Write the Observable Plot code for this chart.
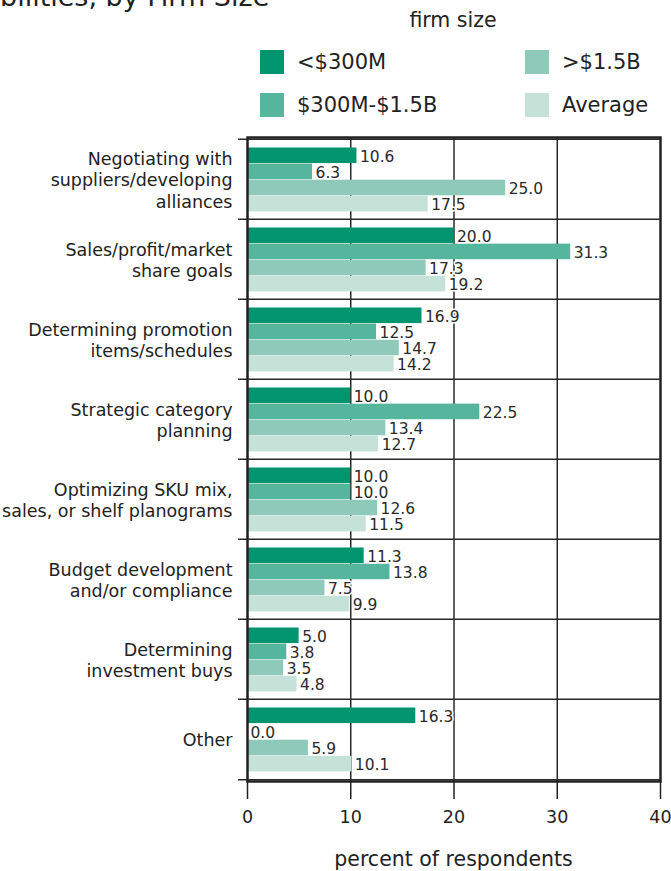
<!DOCTYPE html>
<html><head><meta charset="utf-8">
<script src="https://cdn.jsdelivr.net/npm/d3@7"></script>
<script src="https://cdn.jsdelivr.net/npm/@observablehq/plot@0.6"></script>
<style>
body{margin:0;background:#fff;font-family:"DejaVu Sans",sans-serif;color:#222;}
#wrap{position:relative;width:671px;height:871px;overflow:hidden;}
#title{position:absolute;left:0;top:-17px;font-size:27px;line-height:1;white-space:nowrap;color:#222;}
#legend{position:relative;height:120px;}
#legend .ttl{position:absolute;left:453px;top:8px;transform:translateX(-50%);font-size:20.5px;white-space:nowrap;}
#legend .item{position:absolute;display:flex;align-items:center;font-size:21px;white-space:nowrap;}
#legend .sw{width:24px;height:24px;margin-right:13px;}
#chart svg{display:block;}
#chart g[aria-label="x-axis tick"] path{stroke-width:1.5;}
#caption{position:absolute;left:247px;width:413px;top:847px;text-align:center;font-size:20.5px;white-space:nowrap;}
</style></head>
<body><div id="wrap">
<div id="title">bilities, by Firm Size</div>
<div id="legend"></div>
<div id="chart"></div>
<div id="caption">percent of respondents</div>
</div>
<script>
const categories = [
  "Negotiating with\nsuppliers/developing\nalliances",
  "Sales/profit/market\nshare goals",
  "Determining promotion\nitems/schedules",
  "Strategic category\nplanning",
  "Optimizing SKU mix,\nsales, or shelf planograms",
  "Budget development\nand/or compliance",
  "Determining\ninvestment buys",
  "Other"
];
const seriesNames = ["<$300M", "$300M-$1.5B", ">$1.5B", "Average"];
const under300M = [10.6, 20.0, 16.9, 10.0, 10.0, 11.3, 5.0, 16.3];
const mid300Mto15B = [6.3, 31.3, 12.5, 22.5, 10.0, 13.8, 3.8, 0.0];
const over15B = [25.0, 17.3, 14.7, 13.4, 12.6, 7.5, 3.5, 5.9];
const average = [17.5, 19.2, 14.2, 12.7, 11.5, 9.9, 4.8, 10.1];
const xTicks = [0, 10, 20, 30, 40];
const gridValues = [10, 20, 30];
const colors = ["#00956f", "#55b59d", "#8fc9b9", "#c5e2d9"];

const seriesValues = [under300M, mid300Mto15B, over15B, average];

// legend (HTML)
const legend = document.getElementById("legend");
legend.innerHTML = '<div class="ttl">firm size</div>';
const legendPos = [[260, 50], [260, 93], [525, 50], [525, 93]];
seriesNames.forEach((name, i) => {
  const el = document.createElement("div");
  el.className = "item";
  el.style.left = legendPos[i][0] + "px";
  el.style.top = legendPos[i][1] + "px";
  el.innerHTML = `<div class="sw" style="background:${colors[i]}"></div><span></span>`;
  el.querySelector("span").textContent = name;
  legend.appendChild(el);
});

// layout constants (styling)
const marginTop = 17, marginBottom = 62, height = 723;
const BAND = (height - marginTop - marginBottom) / categories.length;
const PAD = 8.5, BAR = 16.1;

const rows = seriesValues.map(vals => categories.map((c, j) => ({category: c, value: vals[j]})));

const marks = [
  Plot.ruleX(gridValues, {stroke: "#2a2a2a", strokeWidth: 1.5}),
  Plot.ruleY(categories, {y: d => d, dy: -BAND / 2, insetLeft: -9, stroke: "#2a2a2a", strokeWidth: 1.5}),
  Plot.ruleY([categories[categories.length - 1]], {y: d => d, dy: BAND / 2, insetLeft: -9, stroke: "#2a2a2a", strokeWidth: 1.5})
];
rows.forEach((r, i) => {
  marks.push(Plot.barX(r, {
    x: "value", y: "category", fill: colors[i],
    insetTop: PAD + BAR * i,
    insetBottom: BAND - PAD - BAR * (i + 1)
  }));
});
rows.forEach((r, i) => {
  marks.push(Plot.text(r, {
    x: "value", y: "category", text: d => d.value.toFixed(1),
    dx: 3, dy: PAD + BAR * i + BAR / 2 - BAND / 2 + 1,
    textAnchor: "start", fontSize: 15.5, fill: "#2a2a2a",
    stroke: "white", strokeWidth: 3
  }));
});
marks.push(Plot.text(categories, {
  y: d => d, frameAnchor: "left", textAnchor: "end", dx: -15,
  fontSize: 17.5, lineHeight: 1.22, fill: "#222"
}));
marks.push(Plot.frame({stroke: "#222", strokeWidth: 2.5}));

const chart = Plot.plot({
  width: 671,
  height,
  marginTop,
  marginBottom,
  marginLeft: 247,
  marginRight: 11,
  style: {fontFamily: "DejaVu Sans, sans-serif", fontSize: "17.5px", color: "#222", background: "#fff"},
  x: {domain: [0, 40], ticks: xTicks, tickSize: 18, tickPadding: 11, label: null, tickFormat: d => String(d)},
  y: {domain: categories, padding: 0, axis: null},
  marks
});
document.getElementById("chart").appendChild(chart);
</script>
</body></html>
